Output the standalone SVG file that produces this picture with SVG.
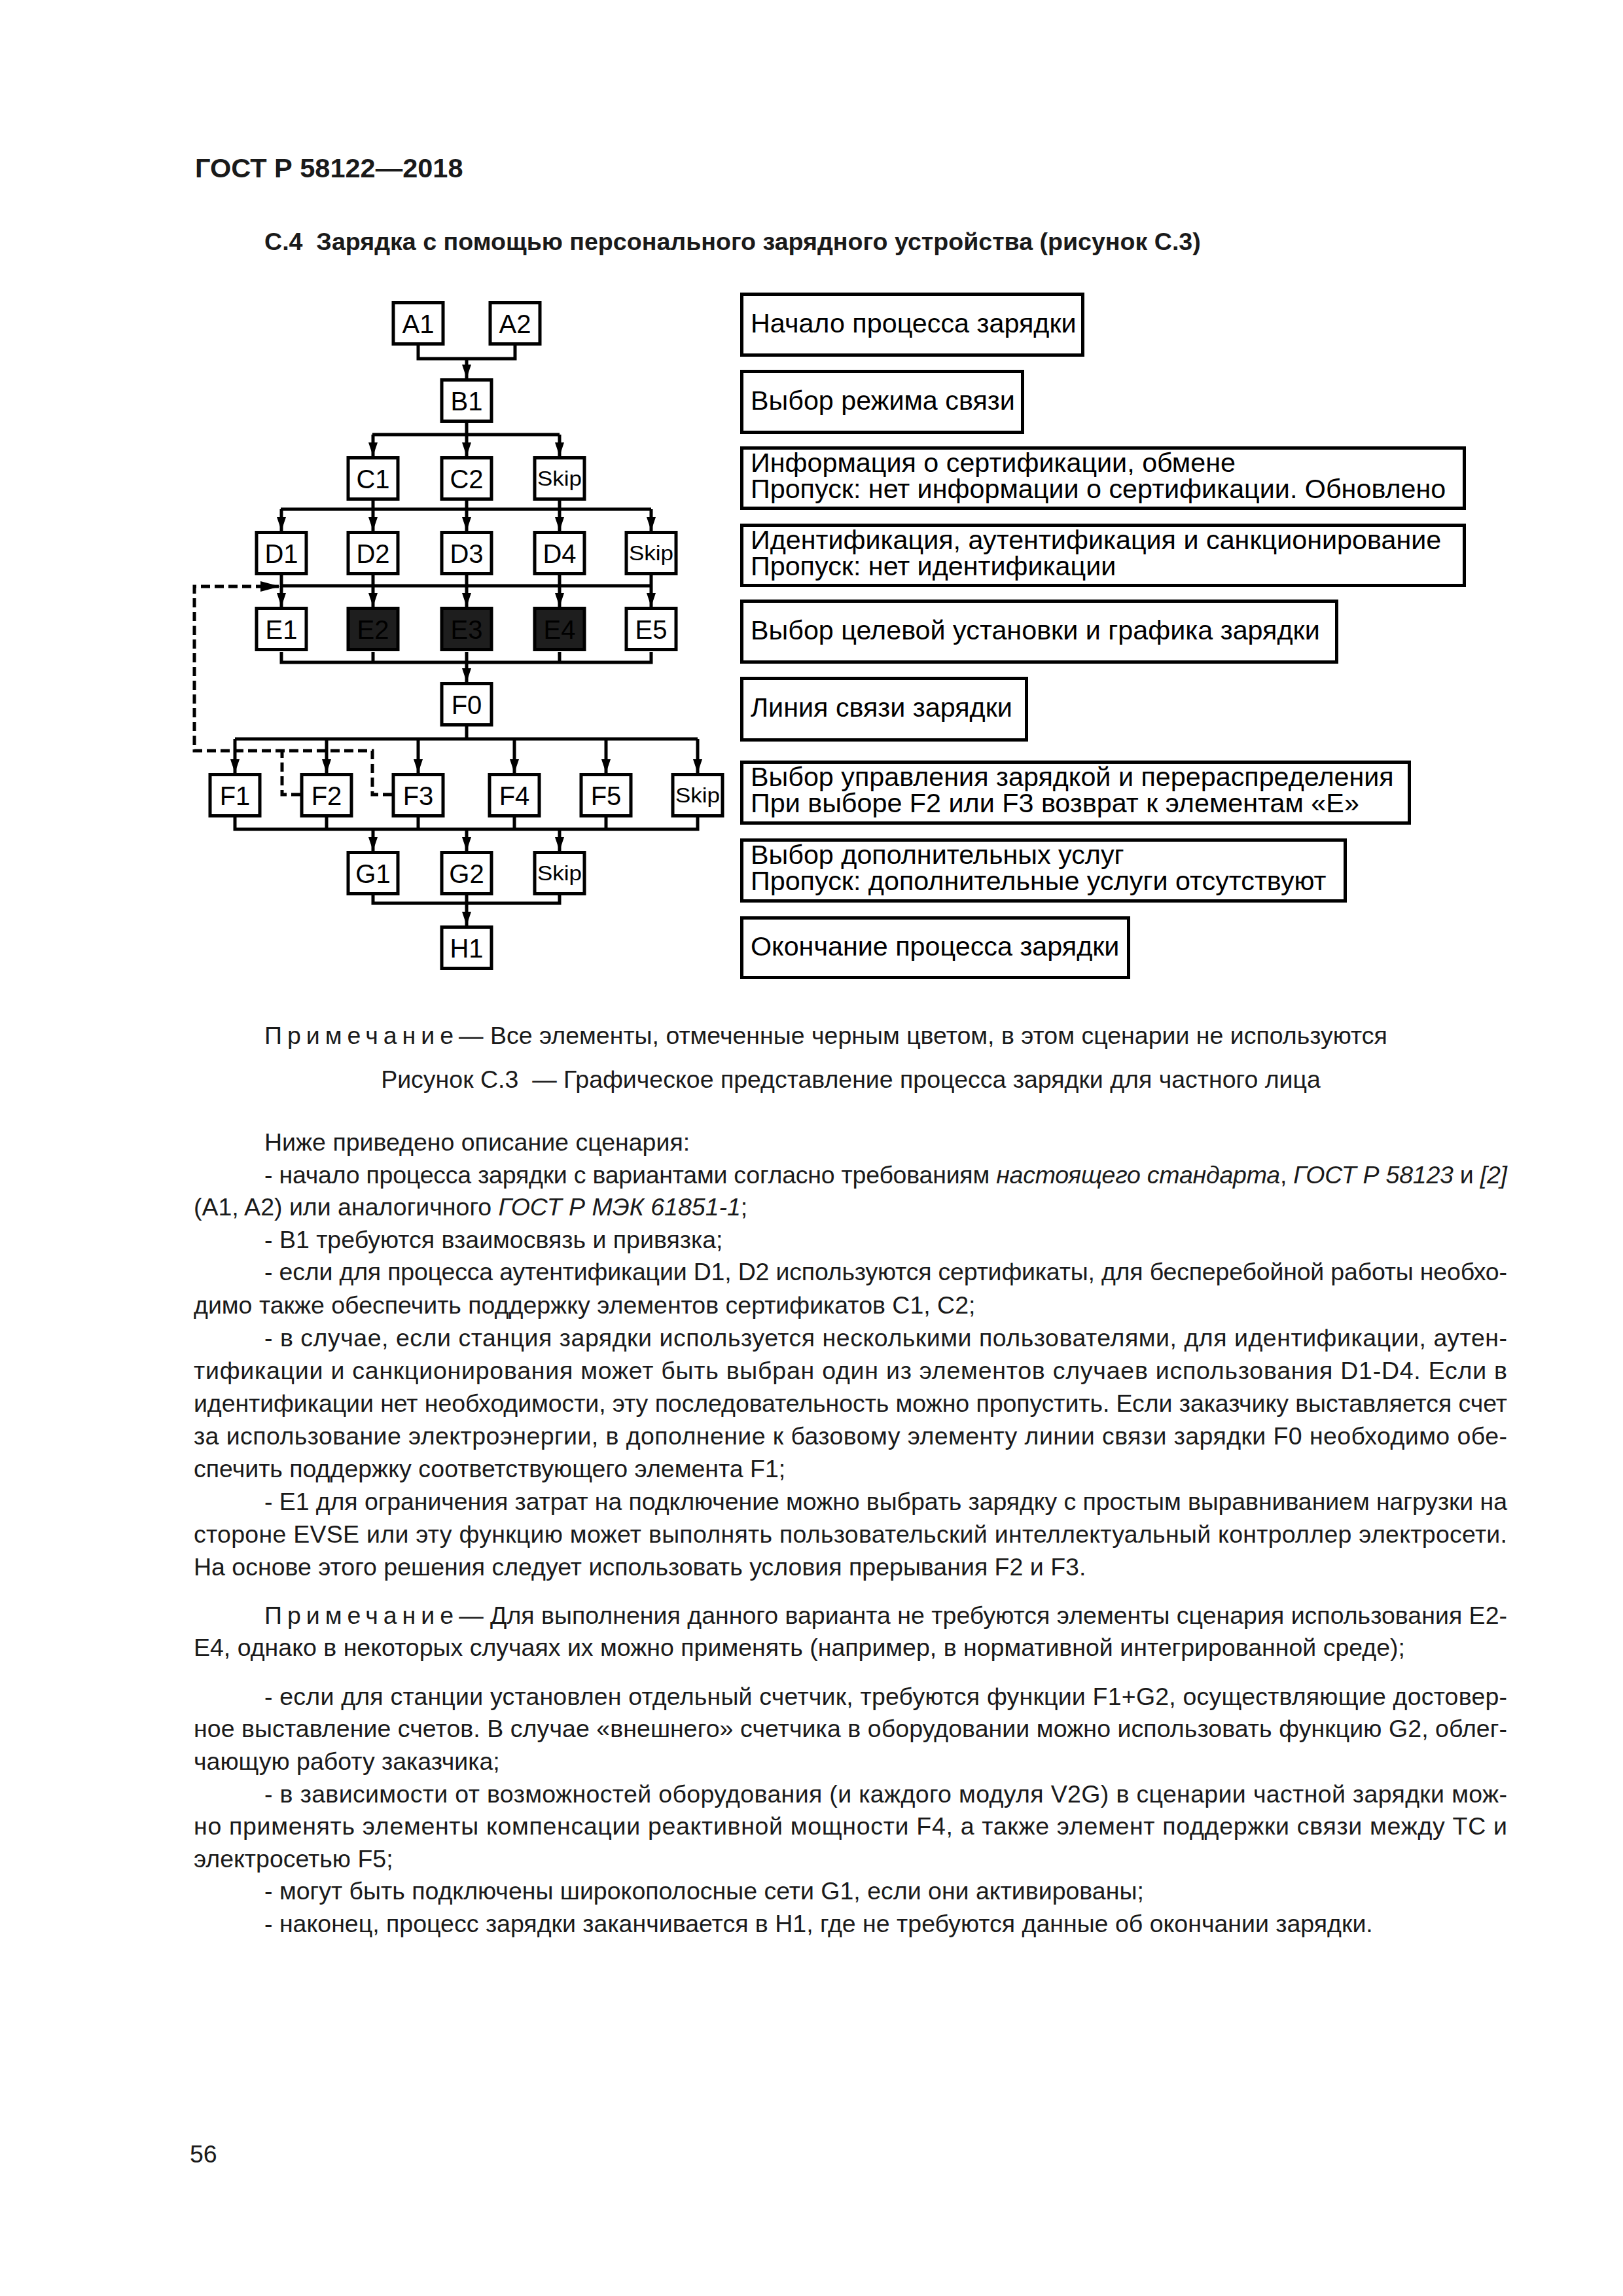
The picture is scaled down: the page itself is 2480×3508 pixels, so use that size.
<svg xmlns="http://www.w3.org/2000/svg" width="2480" height="3508" viewBox="0 0 2480 3508">
<style>
text{font-family:"Liberation Sans",Arial,sans-serif}
.bx{fill:#fff;stroke:#000;stroke-width:5}
.dk{fill:#1e1e1e;stroke:#000;stroke-width:5}
.lb{font-size:40px;text-anchor:middle;fill:#000}
.sk{font-size:31px;text-anchor:middle;fill:#000}
.rt{font-size:41.3px;fill:#000}
.ln{fill:none;stroke:#000;stroke-width:5}
.ar{fill:none;stroke:#000;stroke-width:5;marker-end:url(#ah)}
.ds{fill:none;stroke:#000;stroke-width:5;stroke-dasharray:14 7}
.bd{font-size:37.5px;fill:#1a1a1a}
.it{font-style:italic}
.hd{font-weight:bold;fill:#1a1a1a}
</style>
<defs>
<marker id="ah" markerUnits="userSpaceOnUse" viewBox="0 0 21 14" refX="21" refY="7" markerWidth="21" markerHeight="14" orient="auto"><path d="M0,0 L21,7 L0,14 z" fill="#000"/></marker>
<marker id="ahd" markerUnits="userSpaceOnUse" viewBox="0 0 30 16" refX="30" refY="8" markerWidth="30" markerHeight="16" orient="auto"><path d="M0,0 L30,8 L0,16 z" fill="#000"/></marker>
</defs>
<rect width="2480" height="3508" fill="#fff"/>

<text class="hd" x="298" y="271" font-size="41.5">ГОСТ Р 58122—2018</text>
<text class="hd" x="404" y="382" font-size="37.6" xml:space="preserve">С.4  Зарядка с помощью персонального зарядного устройства (рисунок С.3)</text>

<g id="connectors">
<path class="ln" d="M639,528 V548 H787 V528"/>
<path class="ar" d="M713,548 V578"/>
<path class="ln" d="M713,646 V664 M569,664 H855"/>
<path class="ar" d="M570,664 V697"/>
<path class="ar" d="M713,664 V697"/>
<path class="ar" d="M855,664 V697"/>
<path class="ln" d="M429,778 H995"/>
<path class="ar" d="M430,778 V811"/>
<path class="ar" d="M570,765 V811"/>
<path class="ar" d="M713,765 V811"/>
<path class="ar" d="M855,765 V811"/>
<path class="ar" d="M995,778 V811"/>
<path class="ln" d="M430,895 H995"/>
<path class="ar" d="M430,879 V927"/>
<path class="ar" d="M570,879 V927"/>
<path class="ar" d="M713,879 V927"/>
<path class="ar" d="M855,879 V927"/>
<path class="ar" d="M995,879 V927"/>
<path class="ln" d="M430,996 V1012 H995 V996 M570,996 V1012 M713,996 V1012 M855,996 V1012"/>
<path class="ar" d="M713,1012 V1042"/>
<path class="ln" d="M713,1110 V1129 M359,1129 H1066"/>
<path class="ar" d="M359,1129 V1181"/>
<path class="ar" d="M499,1129 V1181"/>
<path class="ar" d="M639,1129 V1181"/>
<path class="ar" d="M786,1129 V1181"/>
<path class="ar" d="M926,1129 V1181"/>
<path class="ar" d="M1066,1129 V1181"/>
<path class="ln" d="M359,1249 V1267 H1066 V1249 M499,1249 V1267 M639,1249 V1267 M786,1249 V1267 M926,1249 V1267"/>
<path class="ar" d="M570,1267 V1300"/>
<path class="ar" d="M713,1267 V1300"/>
<path class="ar" d="M855,1267 V1300"/>
<path class="ln" d="M570,1366 V1380 H855 V1366 M713,1366 V1380"/>
<path class="ar" d="M713,1380 V1414"/>
<path class="ds" d="M459,1214 H431 V1147"/>
<path class="ds" d="M599,1214 H569 V1147 H297 V896 H428" marker-end="url(#ahd)"/>
</g>

<g id="A1"><rect class="bx" x="601" y="462.5" width="76" height="63"/><text class="lb" x="639" y="509">A1</text></g>
<g id="A2"><rect class="bx" x="749" y="462.5" width="76" height="63"/><text class="lb" x="787" y="509">A2</text></g>
<g id="B1"><rect class="bx" x="675" y="580.5" width="76" height="63"/><text class="lb" x="713" y="627">B1</text></g>
<g id="C1"><rect class="bx" x="532" y="699.5" width="76" height="63"/><text class="lb" x="570" y="746">C1</text></g>
<g id="C2"><rect class="bx" x="675" y="699.5" width="76" height="63"/><text class="lb" x="713" y="746">C2</text></g>
<g id="CSkip"><rect class="bx" x="817" y="699.5" width="76" height="63"/><text class="sk" x="855" y="742" textLength="68" lengthAdjust="spacingAndGlyphs">Skip</text></g>
<g id="D1"><rect class="bx" x="392" y="813.5" width="76" height="63"/><text class="lb" x="430" y="860">D1</text></g>
<g id="D2"><rect class="bx" x="532" y="813.5" width="76" height="63"/><text class="lb" x="570" y="860">D2</text></g>
<g id="D3"><rect class="bx" x="675" y="813.5" width="76" height="63"/><text class="lb" x="713" y="860">D3</text></g>
<g id="D4"><rect class="bx" x="817" y="813.5" width="76" height="63"/><text class="lb" x="855" y="860">D4</text></g>
<g id="DSkip"><rect class="bx" x="957" y="813.5" width="76" height="63"/><text class="sk" x="995" y="856" textLength="68" lengthAdjust="spacingAndGlyphs">Skip</text></g>
<g id="E1"><rect class="bx" x="392" y="929.5" width="76" height="63"/><text class="lb" x="430" y="976">E1</text></g>
<g id="E2"><rect class="dk" x="532" y="929.5" width="76" height="63"/><text class="lb" x="570" y="976">E2</text></g>
<g id="E3"><rect class="dk" x="675" y="929.5" width="76" height="63"/><text class="lb" x="713" y="976">E3</text></g>
<g id="E4"><rect class="dk" x="817" y="929.5" width="76" height="63"/><text class="lb" x="855" y="976">E4</text></g>
<g id="E5"><rect class="bx" x="957" y="929.5" width="76" height="63"/><text class="lb" x="995" y="976">E5</text></g>
<g id="F0"><rect class="bx" x="675" y="1044.5" width="76" height="63"/><text class="lb" x="713" y="1091">F0</text></g>
<g id="F1"><rect class="bx" x="321" y="1183.5" width="76" height="63"/><text class="lb" x="359" y="1230">F1</text></g>
<g id="F2"><rect class="bx" x="461" y="1183.5" width="76" height="63"/><text class="lb" x="499" y="1230">F2</text></g>
<g id="F3"><rect class="bx" x="601" y="1183.5" width="76" height="63"/><text class="lb" x="639" y="1230">F3</text></g>
<g id="F4"><rect class="bx" x="748" y="1183.5" width="76" height="63"/><text class="lb" x="786" y="1230">F4</text></g>
<g id="F5"><rect class="bx" x="888" y="1183.5" width="76" height="63"/><text class="lb" x="926" y="1230">F5</text></g>
<g id="FSkip"><rect class="bx" x="1028" y="1183.5" width="76" height="63"/><text class="sk" x="1066" y="1226" textLength="68" lengthAdjust="spacingAndGlyphs">Skip</text></g>
<g id="G1"><rect class="bx" x="532" y="1302.5" width="76" height="63"/><text class="lb" x="570" y="1349">G1</text></g>
<g id="G2"><rect class="bx" x="675" y="1302.5" width="76" height="63"/><text class="lb" x="713" y="1349">G2</text></g>
<g id="GSkip"><rect class="bx" x="817" y="1302.5" width="76" height="63"/><text class="sk" x="855" y="1345" textLength="68" lengthAdjust="spacingAndGlyphs">Skip</text></g>
<g id="H1"><rect class="bx" x="675" y="1416.5" width="76" height="63"/><text class="lb" x="713" y="1463">H1</text></g>

<g id="R1"><rect class="bx" x="1133.5" y="449.5" width="521" height="93"/><text class="rt" x="1147" y="508">Начало процесса зарядки</text></g>
<g id="R2"><rect class="bx" x="1133.5" y="567.5" width="429" height="93"/><text class="rt" x="1147" y="626">Выбор режима связи</text></g>
<g id="R3"><rect class="bx" x="1133.5" y="684.5" width="1104" height="92"/><text class="rt" x="1147" y="721">Информация о сертификации, обмене</text><text class="rt" x="1147" y="761">Пропуск: нет информации о сертификации. Обновлено</text></g>
<g id="R4"><rect class="bx" x="1133.5" y="802.5" width="1104" height="92"/><text class="rt" x="1147" y="839">Идентификация, аутентификация и санкционирование</text><text class="rt" x="1147" y="879">Пропуск: нет идентификации</text></g>
<g id="R5"><rect class="bx" x="1133.5" y="918.5" width="909" height="93"/><text class="rt" x="1147" y="977">Выбор целевой установки и графика зарядки</text></g>
<g id="R6"><rect class="bx" x="1133.5" y="1036.5" width="435" height="94"/><text class="rt" x="1147" y="1095">Линия связи зарядки</text></g>
<g id="R7"><rect class="bx" x="1133.5" y="1164.5" width="1020" height="93"/><text class="rt" x="1147" y="1201">Выбор управления зарядкой и перераспределения</text><text class="rt" x="1147" y="1241">При выборе F2 или F3 возврат к элементам «Е»</text></g>
<g id="R8"><rect class="bx" x="1133.5" y="1283.5" width="922" height="93"/><text class="rt" x="1147" y="1320">Выбор дополнительных услуг</text><text class="rt" x="1147" y="1360">Пропуск: дополнительные услуги отсутствуют</text></g>
<g id="R9"><rect class="bx" x="1133.5" y="1402.5" width="591" height="91"/><text class="rt" x="1147" y="1460">Окончание процесса зарядки</text></g>

<g id="page-text">
<text class="bd" x="404" y="1595"><tspan letter-spacing="8">Примечание</tspan>— Все элементы, отмеченные черным цветом, в этом сценарии не используются</text>
<text class="bd" x="1300" y="1662" text-anchor="middle" xml:space="preserve">Рисунок С.3  — Графическое представление процесса зарядки для частного лица</text>
<text class="bd" x="404" y="1758">Ниже приведено описание сценария:</text>
<text class="bd" x="404" y="1808" textLength="1899" lengthAdjust="spacing">- начало процесса зарядки с вариантами согласно требованиям <tspan class="it">настоящего стандарта</tspan>, <tspan class="it">ГОСТ Р 58123</tspan> и <tspan class="it">[2]</tspan></text>
<text class="bd" x="296" y="1857">(A1, A2) или аналогичного <tspan class="it">ГОСТ Р МЭК 61851-1</tspan>;</text>
<text class="bd" x="404" y="1907">- B1 требуются взаимосвязь и привязка;</text>
<text class="bd" x="404" y="1956" textLength="1899" lengthAdjust="spacing">- если для процесса аутентификации D1, D2 используются сертификаты, для бесперебойной работы необхо-</text>
<text class="bd" x="296" y="2007">димо также обеспечить поддержку элементов сертификатов C1, C2;</text>
<text class="bd" x="404" y="2057" textLength="1899" lengthAdjust="spacing">- в случае, если станция зарядки используется несколькими пользователями, для идентификации, аутен-</text>
<text class="bd" x="296" y="2107" textLength="2007" lengthAdjust="spacing">тификации и санкционирования может быть выбран один из элементов случаев использования D1-D4. Если в</text>
<text class="bd" x="296" y="2157" textLength="2007" lengthAdjust="spacing">идентификации нет необходимости, эту последовательность можно пропустить. Если заказчику выставляется счет</text>
<text class="bd" x="296" y="2207" textLength="2007" lengthAdjust="spacing">за использование электроэнергии, в дополнение к базовому элементу линии связи зарядки F0 необходимо обе-</text>
<text class="bd" x="296" y="2257">спечить поддержку соответствующего элемента F1;</text>
<text class="bd" x="404" y="2307" textLength="1899" lengthAdjust="spacing">- E1 для ограничения затрат на подключение можно выбрать зарядку с простым выравниванием нагрузки на</text>
<text class="bd" x="296" y="2357" textLength="2007" lengthAdjust="spacing">стороне EVSE или эту функцию может выполнять пользовательский интеллектуальный контроллер электросети.</text>
<text class="bd" x="296" y="2407">На основе этого решения следует использовать условия прерывания F2 и F3.</text>
<text class="bd" x="404" y="2481" textLength="1899" lengthAdjust="spacing"><tspan letter-spacing="8">Примечание</tspan>— Для выполнения данного варианта не требуются элементы сценария использования E2-</text>
<text class="bd" x="296" y="2530">E4, однако в некоторых случаях их можно применять (например, в нормативной интегрированной среде);</text>
<text class="bd" x="404" y="2605" textLength="1899" lengthAdjust="spacing">- если для станции установлен отдельный счетчик, требуются функции F1+G2, осуществляющие достовер-</text>
<text class="bd" x="296" y="2654" textLength="2007" lengthAdjust="spacing">ное выставление счетов. В случае «внешнего» счетчика в оборудовании можно использовать функцию G2, облег-</text>
<text class="bd" x="296" y="2704">чающую работу заказчика;</text>
<text class="bd" x="404" y="2754" textLength="1899" lengthAdjust="spacing">- в зависимости от возможностей оборудования (и каждого модуля V2G) в сценарии частной зарядки мож-</text>
<text class="bd" x="296" y="2803" textLength="2007" lengthAdjust="spacing">но применять элементы компенсации реактивной мощности F4, а также элемент поддержки связи между ТС и</text>
<text class="bd" x="296" y="2853">электросетью F5;</text>
<text class="bd" x="404" y="2902">- могут быть подключены широкополосные сети G1, если они активированы;</text>
<text class="bd" x="404" y="2952">- наконец, процесс зарядки заканчивается в H1, где не требуются данные об окончании зарядки.</text>
<text class="bd" x="290" y="3304">56</text>
</g>
</svg>
